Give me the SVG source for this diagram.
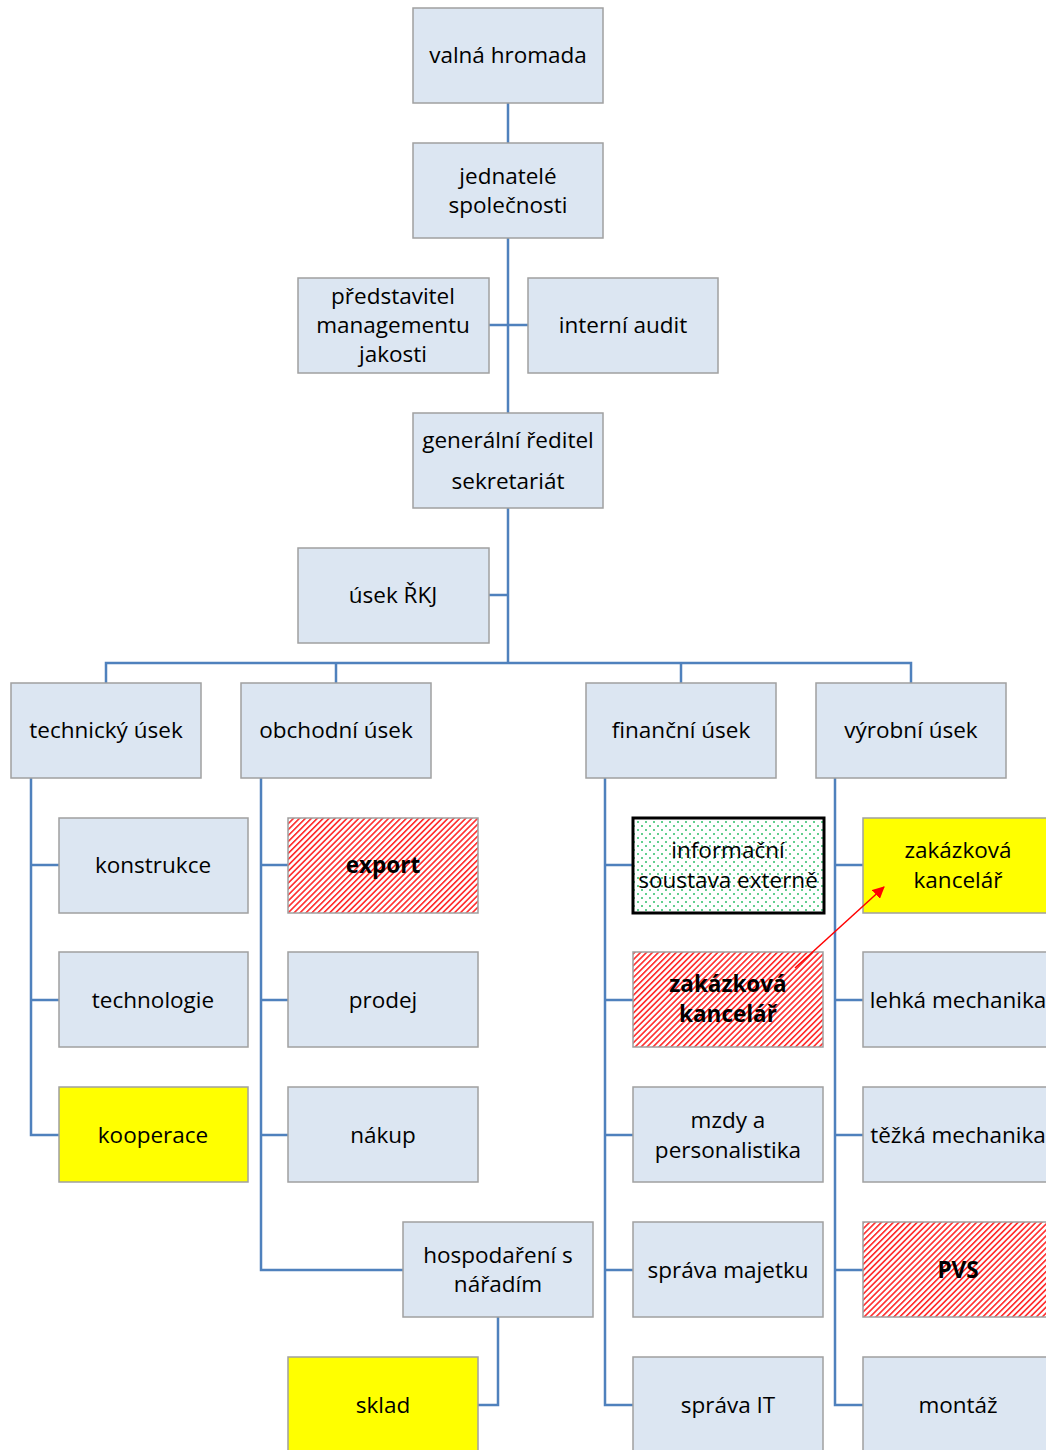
<svg xmlns="http://www.w3.org/2000/svg" width="1046" height="1450" viewBox="0 0 1046 1450">
<defs>
<pattern id="hatch" patternUnits="userSpaceOnUse" width="4.2" height="4.2" patternTransform="rotate(45)">
<rect width="4.2" height="4.2" fill="#fff"/>
<rect x="0" y="0" width="1.6" height="4.2" fill="#ff2a2a"/>
</pattern>
<pattern id="dots" patternUnits="userSpaceOnUse" width="8" height="8">
<rect width="8" height="8" fill="#fff"/>
<circle cx="2" cy="2" r="1" fill="#2fbf6a"/>
<circle cx="6" cy="6" r="1" fill="#2fbf6a"/>
</pattern>
<marker id="arr" markerWidth="12" markerHeight="12" refX="11" refY="6" orient="auto" markerUnits="userSpaceOnUse" viewBox="0 0 12 12">
<path d="M0,0 L12,6 L0,12 z" fill="#ff0000"/>
</marker>
</defs>
<style>
.b{fill:#dce6f2;stroke:#a0a0a0;stroke-width:1.5}
.y{fill:#ffff00;stroke:#a0a0a0;stroke-width:1.5}
.h{fill:url(#hatch);stroke:#a0a0a0;stroke-width:1.5}
.d{fill:url(#dots);stroke:#000;stroke-width:3}
text{font-family:"Open Sans","Liberation Sans",sans-serif;font-size:22.5px;fill:#000;text-anchor:middle}
.bold{font-weight:bold}
.c{fill:none;stroke:#4f81bd;stroke-width:2.5}
</style>
<g id="connectors">
<path class="c" d="M508,103 V663 M489,325 H528 M489,595 H508 M106,683 V663 H911 V683 M336,663 V683 M681,663 V683"/>
<path class="c" d="M31,778 V1135 H59 M31,865 H59 M31,1000 H59"/>
<path class="c" d="M261,778 V1270 H403 M261,865 H288 M261,1000 H288 M261,1135 H288"/>
<path class="c" d="M498,1317 V1405 H478"/>
<path class="c" d="M605,778 V1405 H633 M605,865 H633 M605,1000 H633 M605,1135 H633 M605,1270 H633"/>
<path class="c" d="M835,778 V1405 H863 M835,865 H863 M835,1000 H863 M835,1135 H863 M835,1270 H863"/>
</g>
<g id="n1"><rect class="b" x="413" y="8" width="190" height="95"/><text x="508" y="63">valná hromada</text></g>
<g id="n2"><rect class="b" x="413" y="143" width="190" height="95"/><text x="508" y="184">jednatelé</text><text x="508" y="213">společnosti</text></g>
<g id="n3"><rect class="b" x="298" y="278" width="191" height="95"/><text x="393" y="304">představitel</text><text x="393" y="333">managementu</text><text x="393" y="362">jakosti</text></g>
<g id="n4"><rect class="b" x="528" y="278" width="190" height="95"/><text x="623" y="333">interní audit</text></g>
<g id="n5"><rect class="b" x="413" y="413" width="190" height="95"/><text x="508" y="448">generální ředitel</text><text x="508" y="489">sekretariát</text></g>
<g id="n6"><rect class="b" x="298" y="548" width="191" height="95"/><text x="393" y="603">úsek ŘKJ</text></g>
<g id="n7"><rect class="b" x="11" y="683" width="190" height="95"/><text x="106" y="738">technický úsek</text></g>
<g id="n8"><rect class="b" x="241" y="683" width="190" height="95"/><text x="336" y="738">obchodní úsek</text></g>
<g id="n9"><rect class="b" x="586" y="683" width="190" height="95"/><text x="681" y="738">finanční úsek</text></g>
<g id="n10"><rect class="b" x="816" y="683" width="190" height="95"/><text x="911" y="738">výrobní úsek</text></g>
<g id="n11"><rect class="b" x="59" y="818" width="189" height="95"/><text x="153" y="873">konstrukce</text></g>
<g id="n12"><rect class="b" x="59" y="952" width="189" height="95"/><text x="153" y="1008">technologie</text></g>
<g id="n13"><rect class="y" x="59" y="1087" width="189" height="95"/><text x="153" y="1143">kooperace</text></g>
<g id="n14"><rect class="h" x="288" y="818" width="190" height="95"/><text class="bold" x="383" y="873">export</text></g>
<g id="n15"><rect class="b" x="288" y="952" width="190" height="95"/><text x="383" y="1008">prodej</text></g>
<g id="n16"><rect class="b" x="288" y="1087" width="190" height="95"/><text x="383" y="1143">nákup</text></g>
<g id="n17"><rect class="b" x="403" y="1222" width="190" height="95"/><text x="498" y="1263">hospodaření s</text><text x="498" y="1292">nářadím</text></g>
<g id="n18"><rect class="y" x="288" y="1357" width="190" height="95"/><text x="383" y="1413">sklad</text></g>
<g id="n19"><rect class="d" x="633" y="818" width="191" height="95"/><text x="728" y="858">informační</text><text x="728" y="888">soustava externě</text></g>
<g id="n20"><rect class="h" x="633" y="952" width="190" height="95"/><text class="bold" x="728" y="992">zakázková</text><text class="bold" x="728" y="1022">kancelář</text></g>
<g id="n21"><rect class="b" x="633" y="1087" width="190" height="95"/><text x="728" y="1128">mzdy a</text><text x="728" y="1158">personalistika</text></g>
<g id="n22"><rect class="b" x="633" y="1222" width="190" height="95"/><text x="728" y="1278">správa majetku</text></g>
<g id="n23"><rect class="b" x="633" y="1357" width="190" height="95"/><text x="728" y="1413">správa IT</text></g>
<g id="n24"><rect class="y" x="863" y="818" width="190" height="95"/><text x="958" y="858">zakázková</text><text x="958" y="888">kancelář</text></g>
<g id="n25"><rect class="b" x="863" y="952" width="190" height="95"/><text x="958" y="1008">lehká mechanika</text></g>
<g id="n26"><rect class="b" x="863" y="1087" width="190" height="95"/><text x="958" y="1143">těžká mechanika</text></g>
<g id="n27"><rect class="h" x="863" y="1222" width="190" height="95"/><text class="bold" x="958" y="1278">PVS</text></g>
<g id="n28"><rect class="b" x="863" y="1357" width="190" height="95"/><text x="958" y="1413">montáž</text></g>
<g id="arrow"><line x1="795" y1="968" x2="884" y2="887" stroke="#ff0000" stroke-width="1.5" marker-end="url(#arr)"/></g>
</svg>
